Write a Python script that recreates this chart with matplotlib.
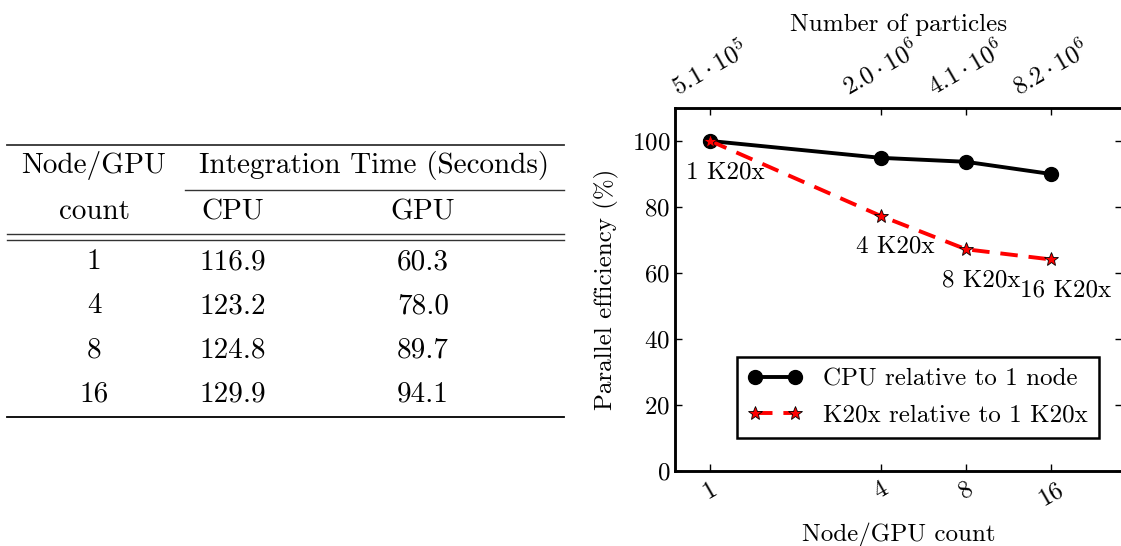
import matplotlib
matplotlib.use("Agg")
import matplotlib.pyplot as plt
from matplotlib.ticker import FixedLocator, NullLocator, FixedFormatter

plt.rcParams['font.family'] = 'serif'
plt.rcParams['font.serif'] = ['cmr10', 'DejaVu Serif']
plt.rcParams['mathtext.fontset'] = 'cm'
plt.rcParams['axes.formatter.use_mathtext'] = True

# ---- data ----
nodes = [1, 4, 8, 16]
node_labels = ['1', '4', '8', '16']
cpu_time = [116.9, 123.2, 124.8, 129.9]
gpu_time = [60.3, 78.0, 89.7, 94.1]
cpu_eff = [100.0, 94.9, 93.7, 90.0]
gpu_eff = [100.0, 77.3, 67.2, 64.1]
gpu_point_labels = ['1 K20x', '4 K20x', '8 K20x', '16 K20x']
particle_labels = [r'$5.1\cdot10^{5}$', r'$2.0\cdot10^{6}$',
                   r'$4.1\cdot10^{6}$', r'$8.2\cdot10^{6}$']
yticks = [0, 20, 40, 60, 80, 100]

W, H = 1121, 546
fig = plt.figure(figsize=(W / 100, H / 100), dpi=100)

# ---- table (pixel coordinates) ----
tab = fig.add_axes([0, 0, 1, 1])
tab.set_xlim(0, W)
tab.set_ylim(H, 0)
tab.axis('off')
tfs = 21
rule_c = '#333333'
tab.plot([7, 564], [145, 145], color=rule_c, lw=1.3)
tab.plot([185, 564], [190, 190], color=rule_c, lw=1.0)
tab.plot([7, 564], [234, 234], color=rule_c, lw=1.0)
tab.plot([7, 564], [239.5, 239.5], color=rule_c, lw=1.0)
tab.plot([7, 564], [416.5, 416.5], color='black', lw=1.3)
col_x = [94, 233, 423]
tab.text(col_x[0], 166, 'Node/GPU', ha='center', va='center', fontsize=tfs)
tab.text(374, 166, 'Integration Time (Seconds)', ha='center', va='center', fontsize=tfs)
tab.text(col_x[0], 212, 'count', ha='center', va='center', fontsize=tfs)
tab.text(col_x[1], 212, 'CPU', ha='center', va='center', fontsize=tfs)
tab.text(col_x[2], 212, 'GPU', ha='center', va='center', fontsize=tfs)
row_y = [262, 306, 350, 394]
for yy, n, c, g in zip(row_y, node_labels, cpu_time, gpu_time):
    tab.text(col_x[0], yy, n, ha='center', va='center', fontsize=tfs)
    tab.text(col_x[1], yy, f'{c:.1f}', ha='center', va='center', fontsize=tfs)
    tab.text(col_x[2], yy, f'{g:.1f}', ha='center', va='center', fontsize=tfs)

# ---- plot ----
L, R, T, B = 675, 1122, 108, 471
ax = fig.add_axes([L / W, (H - B) / H, (R - L) / W, (B - T) / H])
fs = 18
ax.set_xscale('log', base=2)
ax.set_xlim(0.75, 28.5)
ax.set_ylim(0, 110)

ax.plot(nodes, cpu_eff, color='black', lw=2.8, marker='o', ms=10,
        label='CPU relative to 1 node', zorder=3)
ax.plot(nodes, gpu_eff, color='red', lw=2.8, dashes=(4.5, 2.8), marker='*', ms=10,
        mfc='red', mec='black', mew=0.6, label='K20x relative to 1 K20x', zorder=4)

for n, v, lab in zip(nodes, gpu_eff, gpu_point_labels):
    ax.annotate(lab, (n, v), xytext=(15, -31), textcoords='offset pixels',
                ha='center', va='center', fontsize=fs)

ax.xaxis.set_major_locator(FixedLocator(nodes))
ax.xaxis.set_major_formatter(FixedFormatter(node_labels))
ax.xaxis.set_minor_locator(NullLocator())
ax.set_yticks(yticks)
ax.tick_params(axis='both', which='major', direction='in', length=5, width=1,
               labelsize=fs, top=False, right=True)
ax.tick_params(axis='x', labelrotation=30, pad=5)
for s in ax.spines.values():
    s.set_linewidth(1.8)
ax.set_xlabel('Node/GPU count', fontsize=fs, labelpad=9)
ax.set_ylabel('Parallel efficiency (%)', fontsize=fs, labelpad=9)

ax2 = ax.twiny()
ax2.set_xscale('log', base=2)
ax2.set_xlim(ax.get_xlim())
ax2.xaxis.set_major_locator(FixedLocator(nodes))
ax2.xaxis.set_major_formatter(FixedFormatter(particle_labels))
ax2.xaxis.set_minor_locator(NullLocator())
ax2.tick_params(axis='x', direction='in', length=5, width=1, labelsize=fs,
                labelrotation=30, pad=6)
ax2.set_xlabel('Number of particles', fontsize=fs, labelpad=3)
for s in ax2.spines.values():
    s.set_linewidth(1.8)

leg = ax.legend(loc='lower right', bbox_to_anchor=(0.948, 0.091), fontsize=fs,
                numpoints=2, fancybox=False, framealpha=1, edgecolor='black',
                handlelength=2.2, borderpad=0.45, labelspacing=0.55,
                borderaxespad=0)
leg.get_frame().set_linewidth(1.8)

fig.savefig('out.png', dpi=100)
